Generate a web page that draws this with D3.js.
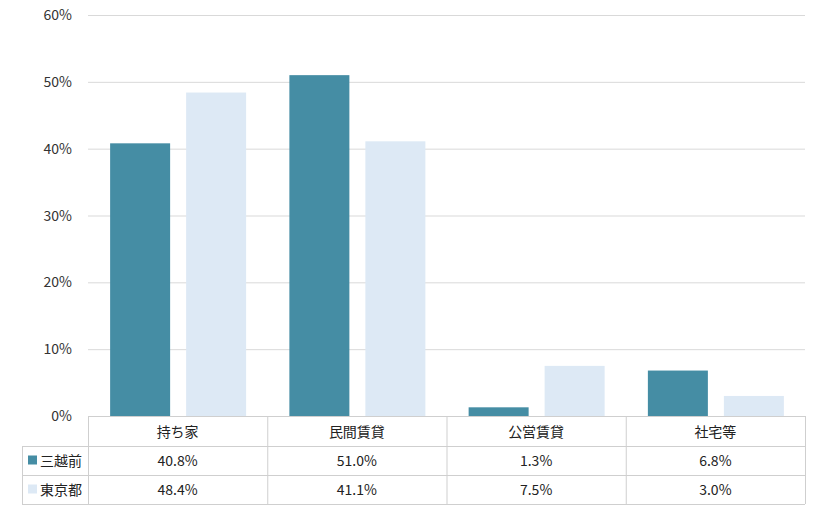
<!DOCTYPE html><html><head><meta charset="utf-8"><script src="https://cdn.jsdelivr.net/npm/d3@7"></script>
<style>body{margin:0;background:#fff}text{font-family:"Noto Sans CJK JP","DejaVu Sans",sans-serif;}</style></head><body><svg id="c" width="820" height="510"></svg><script>
const categories=["持ち家","民間賃貸","公営賃貸","社宅等"];
const seriesNames=["三越前","東京都"];
const mitsukoshimae=[40.8,51.0,1.3,6.8];
const tokyo=[48.4,41.1,7.5,3.0];
const yTicks=[0,10,20,30,40,50,60];
const colors=["#458DA4","#DDE9F5"];
const series=[mitsukoshimae,tokyo];
const svg=d3.select("#c");
const L=88,R=805,T=15,B=416;
const x=d3.scaleBand().domain(categories).range([L,R]);
const y=d3.scaleLinear().domain([0,60]).range([B,T]);
svg.append("g").selectAll("line").data(yTicks).join("line").attr("x1",L).attr("x2",R).attr("y1",d=>y(d)+.5).attr("y2",d=>y(d)+.5).attr("stroke","#d9d9d9");
svg.append("g").selectAll("text").data(yTicks).join("text").attr("x",72).attr("y",d=>y(d)+5).attr("text-anchor","end").attr("font-size",14).attr("fill","#333").text(d=>d+"%");
const bw=60,gap=16;
series.forEach((s,i)=>{
 svg.append("g").selectAll("rect").data(s).join("rect")
 .attr("x",(d,j)=>x(categories[j])+x.bandwidth()/2-bw-gap/2+i*(bw+gap)+0.5)
 .attr("y",d=>y(d)).attr("width",bw).attr("height",d=>B-y(d)).attr("fill",colors[i]);
});
// table
const rows=[B,446,475,504];
const tl=22;
const g=svg.append("g");
const st="#cfcfcf";
g.append("line").attr("x1",L).attr("x2",R).attr("y1",rows[0]+.5).attr("y2",rows[0]+.5).attr("stroke",st);
[1,2,3].forEach(k=>g.append("line").attr("x1",tl).attr("x2",R).attr("y1",rows[k]+.5).attr("y2",rows[k]+.5).attr("stroke",st));
g.append("line").attr("x1",tl+.5).attr("x2",tl+.5).attr("y1",rows[1]).attr("y2",rows[3]).attr("stroke",st);
categories.forEach((c,j)=>g.append("line").attr("x1",x(c)+.5).attr("x2",x(c)+.5).attr("y1",rows[0]).attr("y2",rows[3]).attr("stroke",st));
g.append("line").attr("x1",R+.5).attr("x2",R+.5).attr("y1",rows[0]).attr("y2",rows[3]).attr("stroke",st);
categories.forEach(c=>g.append("text").attr("x",x(c)+x.bandwidth()/2).attr("y",437).attr("text-anchor","middle").attr("font-size",14).attr("fill","#222").text(c));
series.forEach((s,i)=>{
 const cy=(rows[i+1]+rows[i+2])/2;
 g.append("rect").attr("x",28).attr("y",cy-5).attr("width",9).attr("height",9).attr("fill",colors[i]);
 g.append("text").attr("x",40).attr("y",cy+5).attr("font-size",14).attr("fill","#222").text(seriesNames[i]);
 s.forEach((v,j)=>g.append("text").attr("x",x(categories[j])+x.bandwidth()/2).attr("y",cy+5).attr("text-anchor","middle").attr("font-size",14).attr("fill","#222").text(v.toFixed(1)+"%"));
});
</script></body></html>
